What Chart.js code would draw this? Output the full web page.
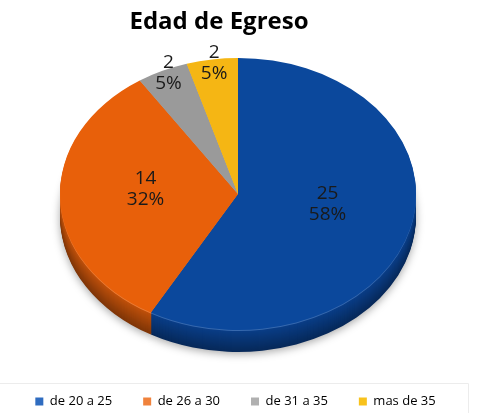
<!DOCTYPE html>
<html>
<head>
<meta charset="utf-8">
<script src="https://cdn.jsdelivr.net/npm/chart.js@4.4.1/dist/chart.umd.min.js"></script>
<style>
  html, body { margin: 0; padding: 0; background: #fff; }
  #wrap { width: 481px; height: 413px; }
</style>
</head>
<body>
<div id="wrap"><canvas id="pieChart" width="481" height="413"></canvas></div>
<script>
// Edad de Egreso - 3D style pie

const chartTitle = 'Edad de Egreso';
const categories = ['de 20 a 25', 'de 26 a 30', 'de 31 a 35', 'mas de 35'];
const counts = [25, 14, 2, 2];
const percentLabels = ['58%', '32%', '5%', '5%'];

const faceColors = ['#0b489c', '#e8600a', '#9a9a9a', '#f5b614'];
const sideColors = ['#0a3f8a', '#c3520b', '#808080', '#cf980f'];
const legendColors = ['#2f6cc0', '#f0823c', '#b0b0b0', '#f8c21c'];

// where the flattened pie sits on the page
const pie = { cx: 238, cy: 194, rx: 178, ry: 136, depth: 22 };

function mix(hex, target, t) {
    const a = parseInt(hex.slice(1), 16);
    const b = parseInt(target.slice(1), 16);
    const ch = (v, s) => (v >> s) & 255;
    const r = Math.round(ch(a, 16) + (ch(b, 16) - ch(a, 16)) * t);
    const g = Math.round(ch(a, 8) + (ch(b, 8) - ch(a, 8)) * t);
    const bl = Math.round(ch(a, 0) + (ch(b, 0) - ch(a, 0)) * t);
    return 'rgb(' + r + ',' + g + ',' + bl + ')';
}

// squash the round pie into the tilted ellipse
function pieTransform(ctx, arc) {
    const r = arc.outerRadius;
    ctx.translate(pie.cx, pie.cy);
    ctx.scale(pie.rx / r, pie.ry / r);
    ctx.translate(-arc.x, -arc.y);
}

const pie3d = {
    id: 'pie3d',
    beforeDatasetsDraw(chart) {
        const ctx = chart.ctx;
        const arcs = chart.getDatasetMeta(0).data;

        // side wall: stacked copies of the slices, darker towards the bottom
        for (let d = pie.depth; d >= 1; d--) {
            ctx.save();
            if (d === pie.depth) {
                ctx.shadowColor = 'rgba(0,0,0,0.35)';
                ctx.shadowBlur = 9;
                ctx.shadowOffsetY = 2;
            }
            ctx.translate(0, d);
            pieTransform(ctx, arcs[0]);
            arcs.forEach(function(arc, i) {
                let color = mix(sideColors[i], '#000000', 0.35 * d / pie.depth);
                if (d <= 1) color = mix(faceColors[i], '#ffffff', 0.18);
                const copy = Object.create(arc);
                copy.options = Object.assign({}, arc.options, { backgroundColor: color, borderWidth: 0 });
                copy.draw(ctx);
            });
            ctx.restore();
        }

        ctx.save();
        pieTransform(ctx, arcs[0]);
    },
    afterDatasetsDraw(chart) {
        const ctx = chart.ctx;
        ctx.restore();

        const arcs = chart.getDatasetMeta(0).data;
        const total = counts.reduce((a, b) => a + b, 0);

        ctx.save();
        ctx.fillStyle = '#1a1a1a';
        ctx.font = '19px "Open Sans"';
        ctx.textAlign = 'center';
        ctx.textBaseline = 'middle';
        arcs.forEach(function(arc, i) {
            const mid = (arc.startAngle + arc.endAngle) / 2;
            const f = counts[i] / total < 0.1 ? 0.92 : 0.52;
            const x = pie.cx + Math.cos(mid) * f * pie.rx;
            const y = pie.cy + Math.sin(mid) * f * pie.ry - 8;
            ctx.fillText(String(counts[i]), x, y - 10);
            ctx.fillText(percentLabels[i], x, y + 11);
        });
        ctx.restore();
    },
    afterDraw(chart) {
        const ctx = chart.ctx;
        ctx.save();
        // title
        ctx.fillStyle = '#000';
        ctx.font = 'bold 24px "Open Sans"';
        ctx.textAlign = 'center';
        ctx.textBaseline = 'middle';
        ctx.fillText(chartTitle, 219, 22);

        // faint frame round the legend strip
        ctx.strokeStyle = '#ececec';
        ctx.lineWidth = 1;
        ctx.beginPath();
        ctx.moveTo(0, 383.5);
        ctx.lineTo(468.5, 383.5);
        ctx.lineTo(468.5, 413);
        ctx.stroke();
        ctx.restore();
    }
};

const ctx = document.getElementById('pieChart').getContext('2d');

new Chart(ctx, {
    type: 'pie',
    data: {
        labels: categories,
        datasets: [{
            data: counts,
            backgroundColor: faceColors,
            borderWidth: 0
        }]
    },
    options: {
        responsive: false,
        animation: false,
        events: [],
        layout: {
            padding: { left: 0, right: 10, top: 40, bottom: -5 }
        },
        plugins: {
            title: { display: false },
            tooltip: { enabled: false },
            legend: {
                display: true,
                position: 'bottom',
                labels: {
                    boxWidth: 8,
                    boxHeight: 8,
                    padding: 31,
                    color: '#595959',
                    font: { family: 'Open Sans', size: 13 },
                    generateLabels: function(chart) {
                        return categories.map(function(label, i) {
                            return {
                                text: label,
                                fillStyle: legendColors[i],
                                strokeStyle: legendColors[i],
                                lineWidth: 0,
                                hidden: false,
                                index: i
                            };
                        });
                    }
                }
            }
        }
    },
    plugins: [pie3d]
});
</script>
</body>
</html>
